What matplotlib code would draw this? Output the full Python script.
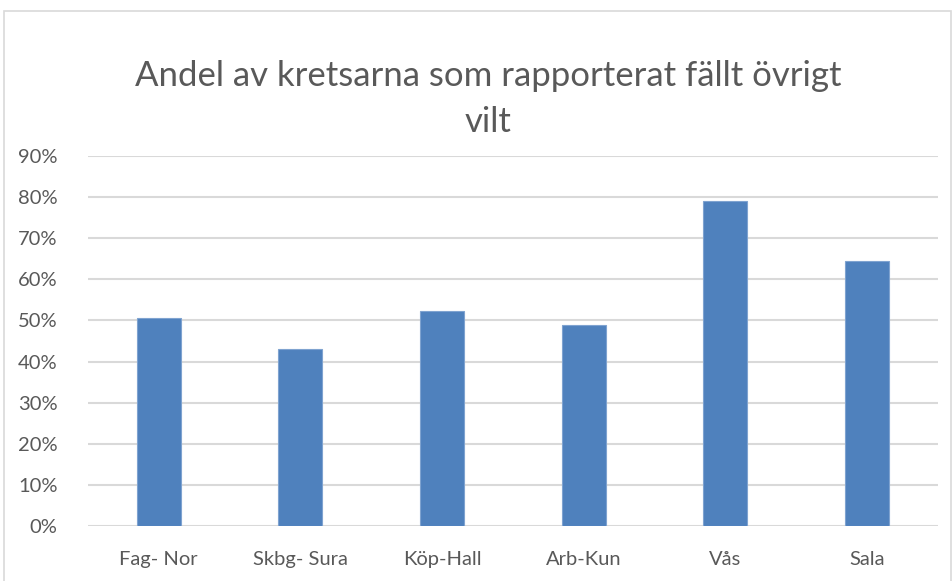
import matplotlib.pyplot as plt
from matplotlib.patches import Rectangle
from matplotlib.ticker import PercentFormatter

kretsar = ['Fag- Nor', 'Skbg- Sura', 'Köp-Hall', 'Arb-Kun', 'Vås', 'Sala']
andel = [0.505, 0.430, 0.524, 0.490, 0.791, 0.644]
y_ticks = [0.0, 0.1, 0.2, 0.3, 0.4, 0.5, 0.6, 0.7, 0.8, 0.9]

plt.rcParams['font.family'] = ['Lato', 'DejaVu Sans']

fig = plt.figure(figsize=(9.53, 5.81), dpi=100)
ax = fig.add_axes([0.0923, 0.0947, 0.8917, 0.6368])

x = range(len(kretsar))
ax.bar(x, andel, width=0.31, color='#4f81bd', edgecolor='#7fa3d0', linewidth=0.8, zorder=3)

ax.set_xlim(-0.5, len(kretsar) - 0.5)
ax.set_ylim(0, 0.9)
ax.set_yticks(y_ticks)
ax.yaxis.set_major_formatter(PercentFormatter(1.0, decimals=0))
ax.set_xticks(list(x))
ax.set_xticklabels(kretsar)

ax.grid(axis='y', color='#d9d9d9', linewidth=1.5, zorder=0)
for s in ax.spines.values():
    s.set_visible(False)
ax.tick_params(length=0, labelsize=14.5, colors='#595959')
ax.tick_params(axis='x', pad=18)
ax.tick_params(axis='y', pad=22)

fig.text(0.512, 0.830, 'Andel av kretsarna som rapporterat fällt övrigt\nvilt',
         ha='center', va='center', fontsize=25, color='#595959',
         linespacing=1.55)

# chart frame
fig.patches.append(Rectangle((4 / 953, -0.01), 947 / 953, 1 - 11 / 581 + 0.01,
                             transform=fig.transFigure, fill=False,
                             edgecolor='#d9d9d9', linewidth=1.2))

fig.savefig('out.png', dpi=100)
